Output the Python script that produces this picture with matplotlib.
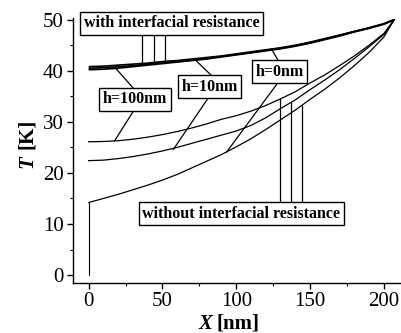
import matplotlib
matplotlib.use("Agg")
import matplotlib.pyplot as plt

plt.rcParams['font.family'] = ['Liberation Serif', 'DejaVu Serif']

# data (X in nm, T in K)
x_grid = [0, 10, 20, 30, 40, 50, 60, 70, 80, 90, 100, 110, 120, 130, 140, 150, 160, 170, 180, 190, 200, 207]

# with interfacial resistance (three nearly coincident curves)
T_with_h100 = [40.8, 40.9, 41.1, 41.3, 41.5, 41.8, 42.0, 42.3, 42.6, 42.9, 43.3, 43.7, 44.1, 44.5, 45.0, 45.6, 46.3, 47.0, 47.7, 48.4, 49.2, 50.0]
T_with_h10 = [40.5, 40.6, 40.8, 41.0, 41.3, 41.6, 41.8, 42.1, 42.4, 42.8, 43.2, 43.6, 44.0, 44.4, 44.9, 45.5, 46.2, 46.9, 47.7, 48.4, 49.2, 50.0]
T_with_h0 = [40.2, 40.3, 40.5, 40.8, 41.1, 41.4, 41.7, 42.0, 42.3, 42.7, 43.1, 43.5, 43.9, 44.3, 44.8, 45.4, 46.1, 46.8, 47.6, 48.3, 49.1, 50.0]

# without interfacial resistance
T_without_h100 = [26.1, 26.15, 26.3, 26.6, 27.0, 27.5, 28.1, 28.8, 29.6, 30.5, 31.2, 32.1, 33.2, 34.5, 35.9, 37.6, 39.2, 41.0, 42.9, 45.0, 47.3, 50.0]
T_without_h10 = [22.4, 22.5, 22.8, 23.2, 23.7, 24.3, 25.0, 25.8, 26.6, 27.4, 28.2, 29.3, 30.8, 32.6, 34.3, 36.3, 38.2, 40.2, 42.4, 44.7, 47.1, 50.0]
T_without_h0 = [14.2, 15.0, 15.8, 16.7, 17.6, 18.6, 19.7, 21.0, 22.3, 23.6, 25.1, 26.7, 28.5, 30.4, 32.3, 34.4, 36.4, 38.6, 41.0, 43.6, 46.6, 50.0]
h0_step_x = [0, 0]
h0_step_T = [0, 14.2]

fig = plt.figure(figsize=(4.01, 3.33), dpi=100)
ax = fig.add_axes([0.1828, 0.151, 0.8172, 0.7945])

for T in (T_with_h100, T_with_h10, T_with_h0):
    ax.plot(x_grid, T, color='black', lw=1.2, solid_capstyle='butt')
for T in (T_without_h100, T_without_h10, T_without_h0):
    ax.plot(x_grid, T, color='black', lw=0.9)
ax.plot(h0_step_x, h0_step_T, color='black', lw=0.8)

ax.set_xlim(-10.4, 211.6)
ax.set_ylim(-1.5, 50.3)
ax.spines['top'].set_visible(False)
ax.spines['right'].set_visible(False)
ax.spines['left'].set_linewidth(1.0)
ax.spines['bottom'].set_linewidth(1.0)
ax.set_xticks([0, 50, 100, 150, 200])
ax.set_xticks([25, 75, 125, 175], minor=True)
ax.set_yticks([0, 10, 20, 30, 40, 50])
ax.set_yticks([5, 15, 25, 35, 45], minor=True)
ax.tick_params(which='major', direction='out', length=4, width=1.0, labelsize=15, pad=3)
ax.tick_params(which='minor', direction='out', length=2.5, width=0.8)

ax.text(0.424, -0.155, 'X', transform=ax.transAxes, fontsize=15, fontweight='bold', style='italic', ha='right', va='center')
ax.text(0.438, -0.155, '[nm]', transform=ax.transAxes, fontsize=15, fontweight='bold', ha='left', va='center')
ax.text(-0.141, 0.433, 'T', transform=ax.transAxes, fontsize=15, fontweight='bold', style='italic', rotation=90, ha='center', va='bottom')
ax.text(-0.141, 0.505, '[K]', transform=ax.transAxes, fontsize=15, fontweight='bold', rotation=90, ha='center', va='bottom')

box = dict(boxstyle='square,pad=0.22', fc='white', ec='black', lw=1.0)
lkw = dict(color='black', lw=0.9)
fs_box = 11.5

# with interfacial resistance label + leaders
ax.text(56, 49.3, 'with interfacial resistance', fontsize=fs_box, fontweight='bold', ha='center', va='center', bbox=box, clip_on=False, zorder=5)
for xl, yl in ((36, 41.2), (44, 41.4), (52, 41.6)):
    ax.plot([xl, xl], [47.8, yl], **lkw)

# h=100nm
ax.text(31.4, 34.4, 'h=100nm', fontsize=fs_box, fontweight='bold', ha='center', va='center', bbox=box, zorder=5)
ax.plot([18, 31.4], [40.6, 36.2], **lkw)
ax.plot([31.4, 17.5], [32.6, 26.25], **lkw)

# h=10nm
ax.text(82, 36.9, 'h=10nm', fontsize=fs_box, fontweight='bold', ha='center', va='center', bbox=box, zorder=5)
ax.plot([72, 84.5], [42.2, 38.7], **lkw)
ax.plot([82, 57.4], [35.1, 24.6], **lkw)

# h=0nm
ax.text(129.4, 39.8, 'h=0nm', fontsize=fs_box, fontweight='bold', ha='center', va='center', bbox=box, zorder=5)
ax.plot([124, 129.6], [44.2, 41.4], **lkw)
ax.plot([129.6, 93.5], [38.2, 24.1], **lkw)

# without interfacial resistance
ax.text(103.4, 12, 'without interfacial resistance', fontsize=fs_box, fontweight='bold', ha='center', va='center', bbox=box, zorder=5)
for xl, yl in ((129.4, 34.4), (136.9, 33.9), (144.3, 33.1)):
    ax.plot([xl, xl], [14, yl], **lkw)

fig.savefig('out.png', dpi=100)
